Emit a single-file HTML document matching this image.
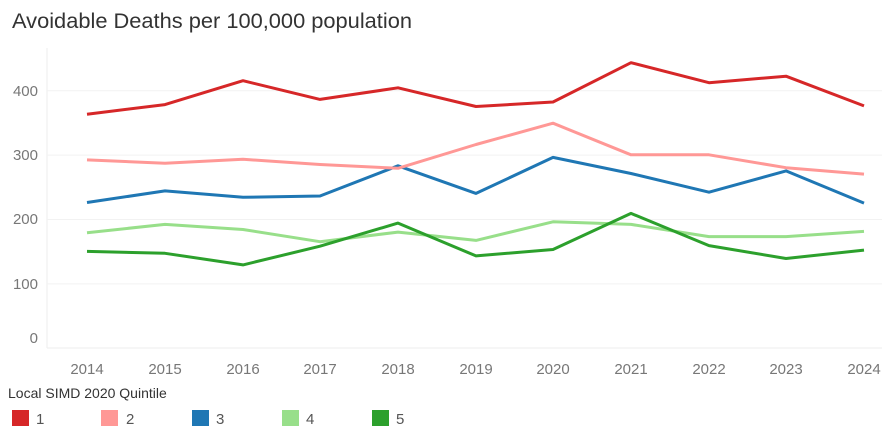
<!DOCTYPE html><html><head><style>body{margin:0;background:#fff}</style></head><body>
<svg width="882" height="432" xmlns="http://www.w3.org/2000/svg" font-family="Liberation Sans, sans-serif">
<text x="12" y="28" font-size="21" fill="#333" textLength="400" lengthAdjust="spacingAndGlyphs">Avoidable Deaths per 100,000 population</text>
<line x1="47" y1="48" x2="47" y2="348" stroke="#eee"/>
<line x1="47" y1="348" x2="882" y2="348" stroke="#eee"/>
<g stroke="#f2f2f2"><line x1="47" y1="90.7" x2="882" y2="90.7"/><line x1="47" y1="155.1" x2="882" y2="155.1"/><line x1="47" y1="219.5" x2="882" y2="219.5"/><line x1="47" y1="283.9" x2="882" y2="283.9"/></g>
<g font-size="15" fill="#777" text-anchor="end"><text x="38" y="96">400</text><text x="38" y="160">300</text><text x="38" y="224">200</text><text x="38" y="289">100</text><text x="38" y="343">0</text></g>
<g font-size="15" fill="#777" text-anchor="middle">
<text x="87" y="374">2014</text><text x="165" y="374">2015</text><text x="243" y="374">2016</text><text x="320" y="374">2017</text><text x="398" y="374">2018</text><text x="476" y="374">2019</text><text x="553" y="374">2020</text><text x="631" y="374">2021</text><text x="709" y="374">2022</text><text x="786" y="374">2023</text><text x="864" y="374">2024</text></g>
<text x="8" y="398" font-size="14" fill="#333">Local SIMD 2020 Quintile</text>
<g font-size="15" fill="#555">
<rect x="12" y="410" width="17" height="16" fill="#d62728"/><text x="36" y="424">1</text>
<rect x="101" y="410" width="17" height="16" fill="#ff9896"/><text x="126" y="424">2</text>
<rect x="192" y="410" width="17" height="16" fill="#1f77b4"/><text x="216" y="424">3</text>
<rect x="282" y="410" width="17" height="16" fill="#98df8a"/><text x="306" y="424">4</text>
<rect x="372" y="410" width="17" height="16" fill="#2ca02c"/><text x="396" y="424">5</text></g>
<g fill="none" stroke-width="3" stroke-linejoin="round">
<polyline stroke="#98df8a" points="87,232.7 165,224.4 243,229.5 320,241.7 398,232.1 476,240.4 553,221.8 631,224.4 709,236.6 786,236.6 864,231.4"/>
<polyline stroke="#2ca02c" points="87,251.4 165,253.3 243,264.9 320,246.2 398,223.1 476,255.9 553,249.5 631,213.4 709,245.6 786,258.5 864,250.1"/>
<polyline stroke="#1f77b4" points="87,202.5 165,190.9 243,197.3 320,196.0 398,165.8 476,193.4 553,157.4 631,173.5 709,192.2 786,170.9 864,203.1"/>
<polyline stroke="#ff9896" points="87,159.9 165,163.2 243,159.3 320,164.5 398,168.3 476,144.5 553,123.2 631,154.8 709,154.8 786,167.7 864,174.1"/>
<polyline stroke="#d62728" points="87,114.2 165,104.6 243,80.7 320,99.4 398,87.8 476,106.5 553,102.0 631,62.7 709,82.7 786,76.2 864,105.9"/>
</g>
</svg></body></html>
